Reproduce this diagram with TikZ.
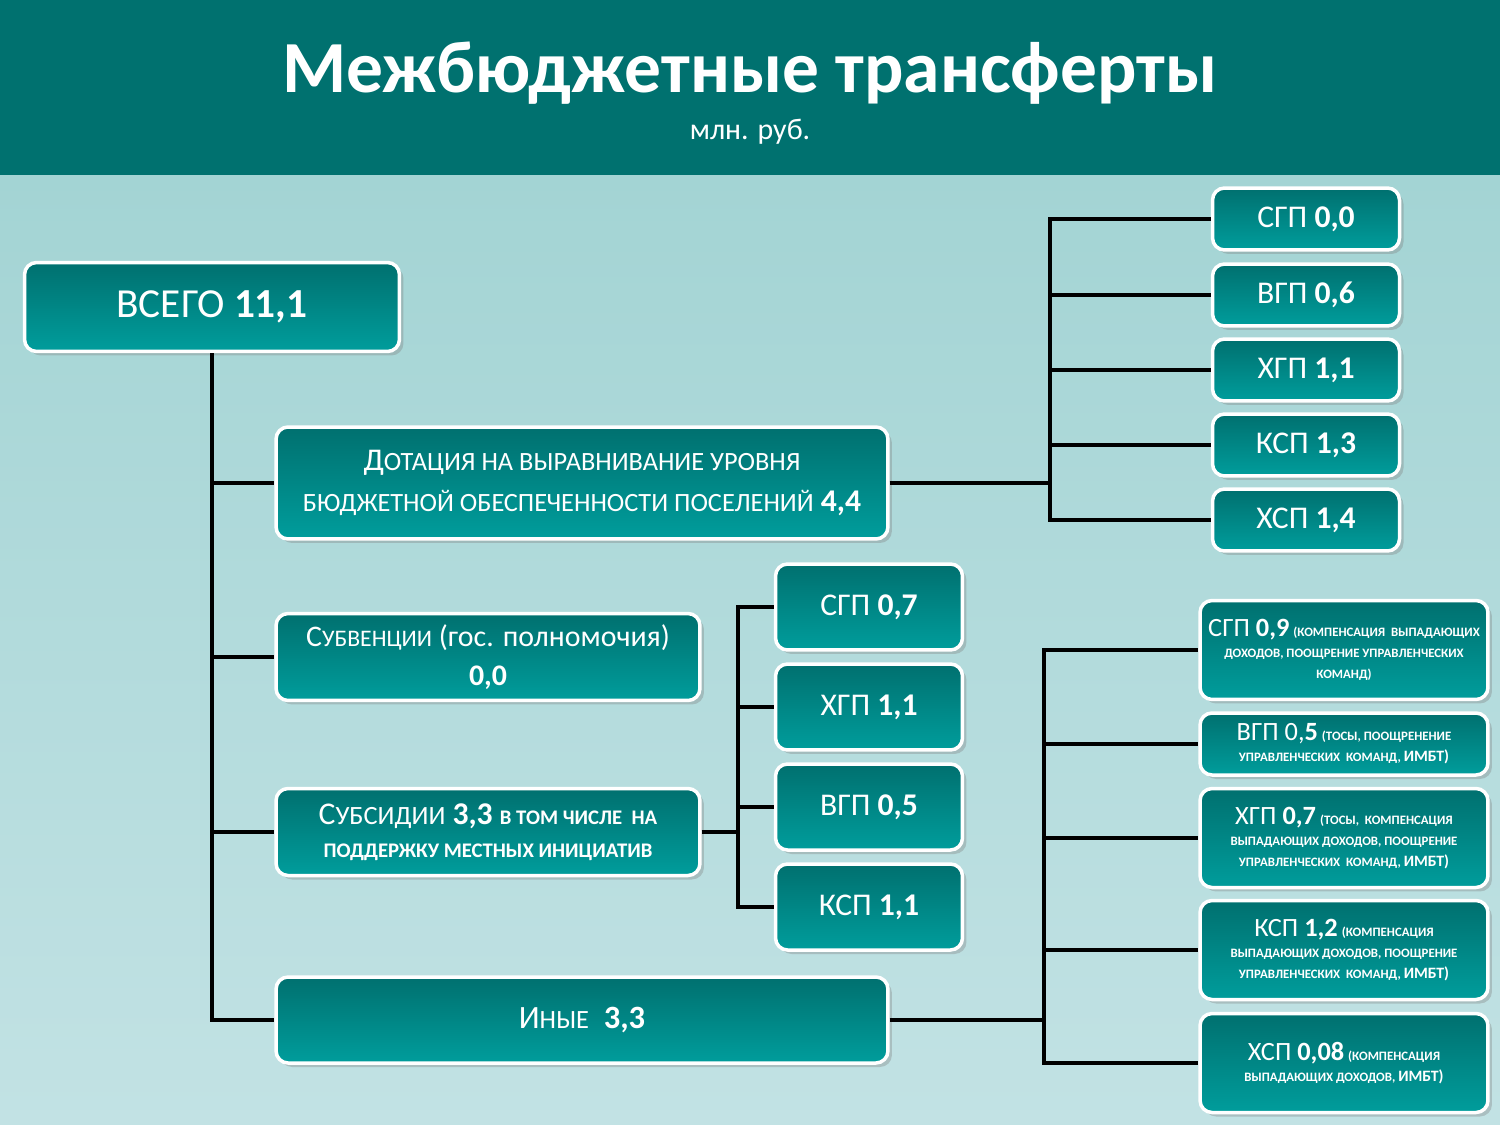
\documentclass[tikz,border=0pt]{standalone}
\usepackage{fontspec}
\setmainfont{Carlito}
\usepackage{xcolor}
\definecolor{headteal}{HTML}{00716F}
\definecolor{boxtop}{HTML}{00706F}
\definecolor{boxbot}{HTML}{009D9C}
\definecolor{bgtop}{HTML}{A3D4D4}
\definecolor{bgbot}{HTML}{C2E2E4}
\usetikzlibrary{shadows}
\tikzset{
  tbox/.style={
    draw=white, line width=0.07cm, rounded corners=0.24cm,
    top color=boxtop, bottom color=boxbot, text=white,
    align=center, inner sep=0pt,
    drop shadow={opacity=0.35, shadow xshift=0.08cm, shadow yshift=-0.08cm}
  },
  link/.style={line width=0.08cm, black}
}
\newcommand{\sm}[1]{{\fontsize{13.5}{23}\selectfont #1}}
\newcommand{\smw}[1]{{\fontsize{15}{23}\selectfont #1}}
\newcommand{\smb}[1]{{\fontsize{11.8}{19}\selectfont\bfseries #1}}
\newcommand{\tnote}[1]{{\fontsize{7.3}{12}\selectfont\bfseries #1}}
\newcommand{\leadtxt}[1]{{\fontsize{15}{12}\selectfont #1}}
\newcommand{\imbt}{{\fontsize{9}{12}\selectfont ИМБТ)}}
\begin{document}
\begin{tikzpicture}[x=0.02cm, y=-0.02cm]
    % background and header
    \fill[top color=bgtop, bottom color=bgbot] (0,175) rectangle (1500,1125);
    \fill[headteal] (0,0) rectangle (1500,175);
    \node[text=white, font=\fontsize{41.8}{42}\selectfont\bfseries] (title) at (750,73) {Межбюджетные трансферты};
    \node[text=white, font=\fontsize{17}{17}\selectfont] (unit) at (750,132) {млн. руб.};

    % left column
    \node[tbox, minimum width=7.5cm, minimum height=1.78cm, font=\fontsize{23.5}{23.5}\selectfont] (total) at (212,307) {ВСЕГО \textbf{11,1}};
    \node[tbox, minimum width=12.24cm, minimum height=2.24cm, font=\fontsize{18}{23}\selectfont] (dot) at (582,483)
        {Д\smw{ОТАЦИЯ НА ВЫРАВНИВАНИЕ УРОВНЯ}\\\smw{БЮДЖЕТНОЙ ОБЕСПЕЧЕННОСТИ ПОСЕЛЕНИЙ} \textbf{4,4}};
    \node[tbox, minimum width=8.48cm, minimum height=1.74cm, font=\fontsize{17}{22}\selectfont] (subv) at (488,657)
        {С\sm{УБВЕНЦИИ} (гос. полномочия)\\\textbf{0,0}};
    \node[tbox, minimum width=8.48cm, minimum height=1.74cm, font=\fontsize{18}{19}\selectfont] (subs) at (488,832)
        {С\smw{УБСИДИИ} \textbf{3,3} \smb{В ТОМ ЧИСЛЕ~~НА}\\\smb{ПОДДЕРЖКУ МЕСТНЫХ ИНИЦИАТИВ}};
    \node[tbox, minimum width=12.24cm, minimum height=1.72cm, font=\fontsize{18.5}{18.5}\selectfont] (other) at (582,1020)
        {И\smw{НЫЕ}~~\textbf{3,3}};

    % grants to settlements
    \foreach \n/\t/\v/\y in {t1/СГП/{0,0}/219, t2/ВГП/{0,6}/295, t3/ХГП/{1,1}/370, t4/КСП/{1,3}/445, t5/ХСП/{1,4}/520}
        \node[tbox, minimum width=3.74cm, minimum height=1.24cm, font=\fontsize{18}{18}\selectfont] (\n) at (1306,\y) {\t\ \textbf{\v}};

    % subsidies to settlements
    \foreach \n/\t/\v/\y in {s1/СГП/{0,7}/607, s2/ХГП/{1,1}/707, s3/ВГП/{0,5}/807, s4/КСП/{1,1}/907}
        \node[tbox, minimum width=3.74cm, minimum height=1.72cm, font=\fontsize{18}{18}\selectfont] (\n) at (869,\y) {\t\ \textbf{\v}};

    % other transfers
    \node[tbox, minimum width=5.76cm, minimum height=1.98cm] (o1) at (1344,650)
        {\leadtxt{СГП \textbf{0,9}} \tnote{(КОМПЕНСАЦИЯ~~ВЫПАДАЮЩИХ}\\\tnote{ДОХОДОВ, ПООЩРЕНИЕ УПРАВЛЕНЧЕСКИХ}\\\tnote{КОМАНД)}};
    \node[tbox, minimum width=5.76cm, minimum height=1.24cm] (o2) at (1344,744)
        {\leadtxt{ВГП 0,\textbf{5}} \tnote{(ТОСЫ, ПООЩРЕНЕНИЕ}\\\tnote{УПРАВЛЕНЧЕСКИХ~~КОМАНД, \imbt}};
    \node[tbox, minimum width=5.76cm, minimum height=1.98cm] (o3) at (1344,838)
        {\leadtxt{ХГП \textbf{0,7}} \tnote{(ТОСЫ,~~КОМПЕНСАЦИЯ}\\\tnote{ВЫПАДАЮЩИХ ДОХОДОВ, ПООЩРЕНИЕ}\\\tnote{УПРАВЛЕНЧЕСКИХ~~КОМАНД, \imbt}};
    \node[tbox, minimum width=5.76cm, minimum height=1.98cm] (o4) at (1344,950)
        {\leadtxt{КСП \textbf{1,2}} \tnote{(КОМПЕНСАЦИЯ}\\\tnote{ВЫПАДАЮЩИХ ДОХОДОВ, ПООЩРЕНИЕ}\\\tnote{УПРАВЛЕНЧЕСКИХ~~КОМАНД, \imbt}};
    \node[tbox, minimum width=5.76cm, minimum height=1.98cm] (o5) at (1344,1063)
        {\leadtxt{ХСП \textbf{0,08}} \tnote{(КОМПЕНСАЦИЯ}\\\tnote{ВЫПАДАЮЩИХ ДОХОДОВ, \imbt}};

    % connectors
    \coordinate (dj) at (1050,483);
    \coordinate (sj) at (738,832);
    \coordinate (oj) at (1044,1020);
    \foreach \n in {dot,subv,subs,other}
        \draw[link] (total.south) |- (\n.west);
    \draw[link] (dot.east) -- (dj);
    \foreach \n in {t1,t2,t3,t4,t5}
        \draw[link] (dj) |- (\n.west);
    \draw[link] (subs.east) -- (sj);
    \foreach \n in {s1,s2,s3,s4}
        \draw[link] (sj) |- (\n.west);
    \draw[link] (other.east) -- (oj);
    \foreach \n in {o1,o2,o3,o4,o5}
        \draw[link] (oj) |- (\n.west);
\end{tikzpicture}
\end{document}
